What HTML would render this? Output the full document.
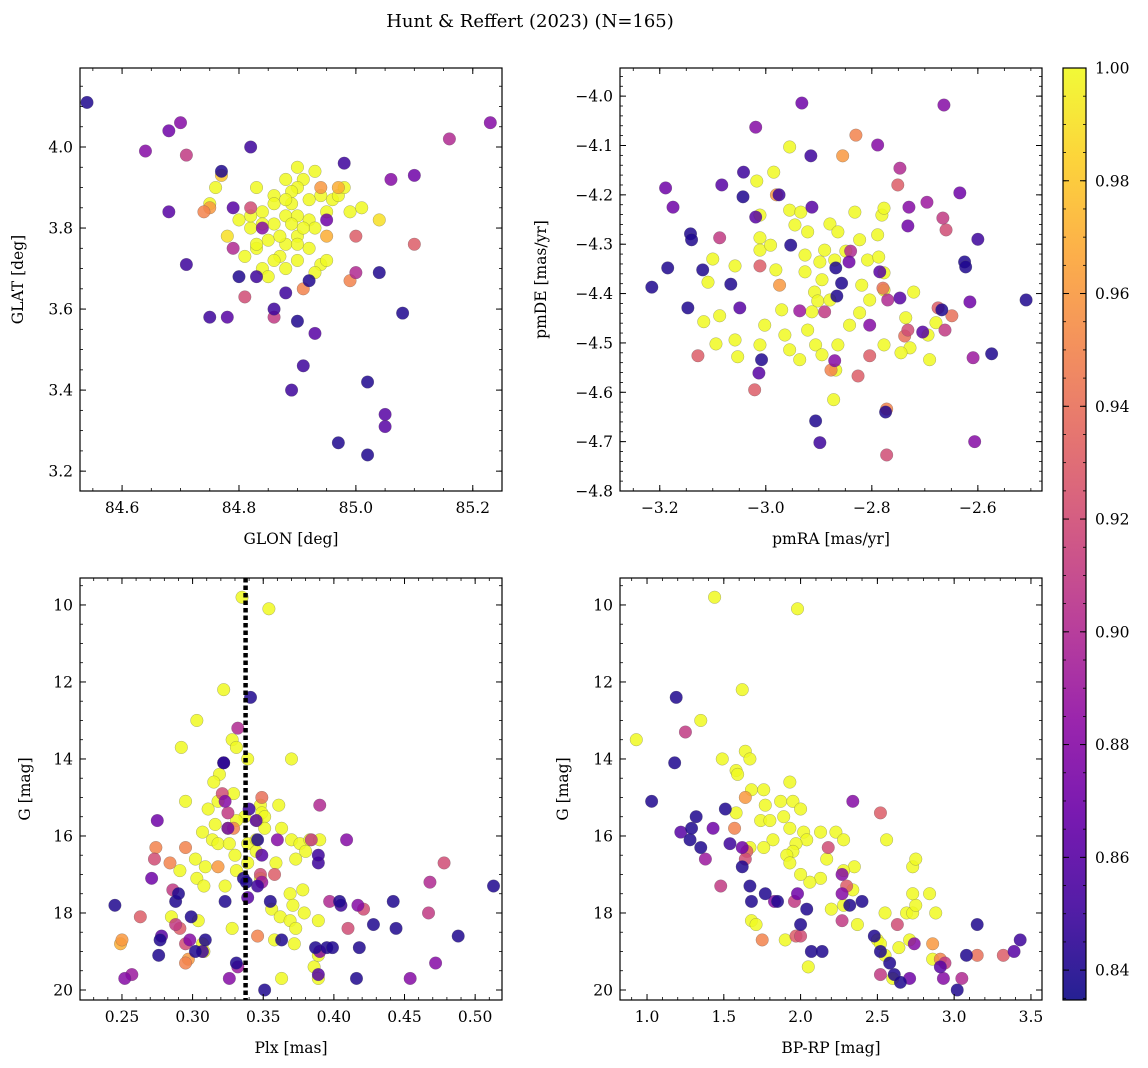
<!DOCTYPE html>
<html><head><meta charset="utf-8">
<style>
body{margin:0;background:#fff;}
svg{display:block;font-family:"DejaVu Serif","Liberation Serif",serif;}
</style></head>
<body>
<svg id="fig" width="1148" height="1068" xmlns="http://www.w3.org/2000/svg">
<text x="530" y="27" text-anchor="middle" font-size="18">Hunt &amp; Reffert (2023) (N=165)</text>
</svg>
<script>
// ---------- Panel 1: GLON vs GLAT ----------
const p1Glon=[84.54,84.64,84.68,84.70,84.71,84.68,84.71,84.75,84.78,84.82,84.77,84.79,84.74,84.82,84.81,84.86,84.86,84.90,84.91,84.89,84.93,84.98,85.02,84.97,85.02,85.05,85.05,85.08,85.06,85.10,85.16,85.23,85.00,85.00,84.99,84.91,84.80,84.83,84.92,84.88,85.04,85.10,84.95,84.79,84.84,84.94,84.97,84.75,84.77,84.95,
84.90,84.91,84.94,84.90,84.88,84.89,84.83,84.86,84.84,84.82,84.83,84.85,84.86,84.88,84.89,84.90,84.92,84.93,84.95,84.96,84.97,84.99,85.01,84.98,84.92,84.90,84.88,84.87,84.86,84.84,84.85,84.88,84.90,84.92,84.94,84.93,84.95,84.82,84.86,84.89,84.90,84.87,84.84,84.83,84.81,84.78,84.76,84.75,84.80,84.88,84.91,85.04,84.93];
const p1Glat=[4.11,3.99,4.04,4.06,3.98,3.84,3.71,3.58,3.58,4.00,3.94,3.85,3.84,3.85,3.63,3.58,3.60,3.57,3.46,3.40,3.54,3.96,3.42,3.27,3.24,3.34,3.31,3.59,3.92,3.93,4.02,4.06,3.78,3.69,3.67,3.65,3.68,3.68,3.67,3.64,3.69,3.76,3.82,3.75,3.80,3.90,3.90,3.85,3.93,3.78,
3.95,3.92,3.88,3.90,3.92,3.89,3.90,3.88,3.84,3.80,3.75,3.77,3.81,3.83,3.86,3.83,3.82,3.80,3.84,3.87,3.88,3.84,3.85,3.90,3.87,3.78,3.76,3.73,3.72,3.70,3.68,3.70,3.72,3.75,3.71,3.69,3.72,3.83,3.86,3.81,3.76,3.78,3.81,3.76,3.73,3.78,3.90,3.86,3.82,3.87,3.80,3.82,3.94];
const p1Prob=[.84,.88,.87,.88,.91,.86,.85,.85,.86,.85,.84,.86,.95,.92,.92,.91,.85,.84,.85,.85,.86,.85,.84,.84,.84,.86,.86,.84,.88,.87,.90,.88,.93,.90,.95,.95,.84,.85,.84,.85,.84,.93,.87,.90,.88,.96,.97,.96,.98,.97,
1,1,1,1,1,1,1,1,1,1,1,1,1,1,1,1,1,1,1,1,1,1,1,1,1,1,1,1,1,1,1,1,1,1,1,1,1,1,1,1,1,1,1,1,1,.99,1,1,1,1,1,.99,1];

// ---------- Panel 2: pmRA vs pmDE ----------
const p2PmRA=[-2.932,-2.664,-3.019,-2.915,-2.789,-3.042,-3.083,-3.043,-2.975,-2.913,-2.747,-2.730,-2.751,-2.696,-2.666,-2.634,-2.60,-2.625,-2.732,-2.660,-2.840,-2.843,-2.868,-2.785,-2.747,-2.866,-2.857,-2.509,-3.189,-3.175,-3.142,-3.140,-3.185,-3.215,-3.147,-3.119,-3.066,-3.087,-3.019,-2.953,-3.011,-2.974,-3.049,-3.128,-3.008,-3.013,-2.615,-2.668,-2.662,-2.704,-2.804,-2.770,-2.804,-2.870,-2.936,-2.889,-3.021,-2.906,-2.898,-2.772,-2.772,-2.774,-2.606,-2.623,-2.574,-2.649,-2.675,-2.826,-2.877,-2.779,-2.732,-2.738,-2.609,-2.855,-2.830,-2.98,
-2.985,-2.955,-3.017,-3.011,-3.011,-3.011,-3.058,-2.991,-2.981,-2.955,-2.945,-2.934,-2.921,-2.926,-2.926,-2.898,-2.889,-2.879,-2.864,-2.894,-2.908,-2.902,-2.879,-2.913,-2.921,-2.906,-2.936,-2.894,-2.864,-2.870,-2.849,-2.832,-2.823,-2.819,-2.808,-2.787,-2.789,-2.781,-2.777,-2.777,-2.777,-2.804,-2.823,-2.842,-2.868,-2.872,-2.970,-3.002,-3.011,-3.053,-3.058,-3.094,-3.087,-3.117,-3.109,-2.964,-2.955,-2.736,-2.728,-2.694,-2.679,-2.691,-2.777,-2.745,-2.721,-3.10];
const p2PmDE=[-4.014,-4.018,-4.063,-4.121,-4.099,-4.154,-4.180,-4.204,-4.200,-4.225,-4.146,-4.225,-4.180,-4.215,-4.247,-4.196,-4.29,-4.336,-4.263,-4.271,-4.314,-4.336,-4.348,-4.356,-4.409,-4.405,-4.379,-4.413,-4.186,-4.225,-4.279,-4.291,-4.348,-4.387,-4.429,-4.352,-4.381,-4.287,-4.245,-4.302,-4.344,-4.383,-4.429,-4.526,-4.534,-4.561,-4.417,-4.433,-4.474,-4.478,-4.464,-4.413,-4.526,-4.536,-4.435,-4.437,-4.595,-4.658,-4.702,-4.727,-4.634,-4.640,-4.700,-4.346,-4.522,-4.445,-4.429,-4.567,-4.555,-4.389,-4.474,-4.486,-4.530,-4.121,-4.079,-4.20,
-4.154,-4.103,-4.172,-4.241,-4.287,-4.312,-4.344,-4.302,-4.352,-4.231,-4.261,-4.235,-4.275,-4.322,-4.356,-4.336,-4.312,-4.259,-4.275,-4.372,-4.397,-4.415,-4.413,-4.437,-4.474,-4.504,-4.534,-4.524,-4.504,-4.332,-4.314,-4.235,-4.291,-4.383,-4.332,-4.326,-4.281,-4.241,-4.227,-4.358,-4.393,-4.413,-4.439,-4.464,-4.555,-4.615,-4.433,-4.464,-4.504,-4.528,-4.494,-4.502,-4.445,-4.457,-4.377,-4.484,-4.514,-4.449,-4.510,-4.484,-4.459,-4.534,-4.504,-4.520,-4.397,-4.33];
const p2Prob=[.87,.88,.88,.85,.88,.85,.86,.84,.85,.86,.90,.88,.93,.89,.91,.87,.85,.84,.87,.92,.90,.87,.84,.86,.86,.84,.84,.84,.87,.87,.84,.84,.84,.84,.84,.84,.84,.91,.86,.84,.93,.96,.86,.93,.84,.86,.87,.84,.91,.86,.88,.90,.93,.88,.89,.91,.93,.84,.85,.92,.95,.84,.88,.84,.84,.94,.93,.93,.95,.94,.92,.94,.89,.96,.95,.96,
1,1,1,1,1,1,1,1,1,1,1,1,1,1,1,1,1,1,1,1,1,1,1,1,1,1,1,1,1,1,1,1,1,1,1,1,1,1,1,1,1,1,1,1,1,1,1,1,1,1,1,1,1,1,1,1,1,1,1,1,1,1,1,1,1,1];

// ---------- Panel 3: Plx vs G ----------
const p3Plx=[0.335,0.354,0.322,0.303,0.292,0.328,0.331,0.339,0.370,0.319,0.315,0.318,0.295,0.311,0.329,0.348,0.349,0.361,0.346,0.351,0.337,0.331,0.325,0.316,0.307,0.314,0.318,0.326,0.339,0.345,0.351,0.363,0.370,0.376,0.383,0.380,0.390,0.302,0.309,0.330,0.339,0.345,0.359,0.373,0.291,0.303,0.308,0.323,0.331,0.348,0.378,0.369,0.356,0.362,0.371,0.379,0.369,0.373,0.358,0.372,0.389,0.389,0.363,0.328,0.304,0.285,0.307,0.308,0.386,0.389,
0.274,0.284,0.295,0.250,0.249,0.297,0.295,0.291,0.346,0.329,0.349,0.318,0.478,
0.263,0.273,0.286,0.288,0.295,0.321,0.332,0.325,0.348,0.358,0.384,0.397,0.421,0.467,0.468,0.410,0.390,0.349,
0.275,0.271,0.278,0.252,0.257,0.322,0.323,0.325,0.345,0.349,0.339,0.409,0.454,0.472,0.390,0.360,0.298,0.417,0.389,0.332,0.326,
0.245,0.277,0.276,0.288,0.290,0.299,0.302,0.307,0.309,0.323,0.322,0.341,0.340,0.346,0.336,0.338,0.346,0.351,0.355,0.363,0.387,0.389,0.389,0.395,0.404,0.399,0.405,0.418,0.428,0.442,0.444,0.416,0.488,0.513,0.331];
const p3G=[9.8,10.1,12.2,13.0,13.7,13.5,13.7,14.0,14.0,14.4,14.6,15.1,15.1,15.3,14.9,15.2,15.4,15.2,15.6,15.5,15.5,15.6,15.8,15.7,15.9,16.1,16.2,16.2,16.2,16.1,15.8,15.8,16.1,16.2,16.1,16.4,16.1,16.6,16.8,16.5,16.7,16.4,16.7,16.6,16.9,17.1,17.3,17.3,16.9,17.1,17.4,17.5,17.9,18.1,17.8,18.0,18.2,18.4,18.7,18.8,18.2,19.7,19.7,18.4,18.2,18.1,18.8,19.0,19.4,19.1,
16.3,16.7,16.3,18.7,18.8,19.2,19.3,18.4,18.6,15.8,15.0,16.8,16.7,
18.1,16.6,17.4,18.3,18.8,14.9,13.2,15.4,17.0,17.0,16.1,17.7,17.9,18.0,17.2,18.4,15.2,17.2,
15.6,17.1,18.6,19.7,19.6,14.1,15.1,15.8,15.6,16.5,17.6,16.1,19.7,19.3,19.0,16.1,18.7,17.8,19.6,19.4,19.7,
17.8,18.7,19.1,17.7,17.5,18.1,19.0,19.0,18.7,17.7,14.1,12.4,15.3,16.1,17.1,17.2,17.3,20.0,17.7,18.7,18.9,16.7,16.5,18.9,17.7,18.9,17.8,18.9,18.3,17.7,18.4,19.7,18.6,17.3,19.3];
const p3Prob=[1,1,1,1,1,1,1,1,1,1,1,1,1,1,1,1,1,1,1,1,1,1,1,1,1,1,1,1,1,1,1,1,1,1,1,1,1,1,1,1,1,1,1,1,1,1,1,1,1,1,1,1,1,1,1,1,1,1,1,1,1,1,1,1,1,1,1,1,1,1,
.95,.95,.95,.96,.97,.96,.95,.93,.95,.95,.94,.96,.92,
.93,.92,.91,.91,.92,.92,.90,.91,.92,.93,.91,.90,.92,.91,.90,.92,.90,.89,
.87,.87,.86,.88,.89,.88,.88,.87,.86,.86,.86,.88,.88,.88,.88,.88,.88,.88,.86,.89,.88,
.84,.84,.84,.84,.84,.84,.84,.85,.84,.84,.84,.84,.85,.84,.84,.84,.85,.84,.84,.84,.84,.85,.85,.84,.84,.84,.85,.84,.84,.84,.84,.84,.84,.84,.84];
const p3PlxRef=[0.3375];

// ---------- Panel 4: BP-RP vs G ----------
const p4BpRp=[1.44,1.98,0.93,1.35,1.62,1.49,1.64,1.67,1.58,1.59,1.68,1.76,1.93,1.87,1.95,2.00,1.77,1.58,1.74,1.80,1.89,1.82,1.93,2.02,2.13,2.04,1.97,1.95,1.91,1.93,1.76,1.67,2.23,2.28,2.35,2.56,2.28,2.13,2.06,2.00,2.17,2.34,2.37,2.20,2.28,1.68,1.71,1.90,2.05,2.50,2.55,2.52,2.55,2.64,2.71,2.69,2.73,2.75,2.73,2.73,2.75,2.84,2.88,2.60,2.86,
1.75,1.64,1.57,2.86,2.91,3.15,2.52,1.97,1.65,
1.25,1.48,1.64,2.00,1.96,2.18,2.27,2.30,2.63,2.52,2.94,3.32,3.05,
1.22,1.38,1.43,1.62,1.83,1.98,2.34,2.27,2.27,2.74,2.71,2.91,3.39,2.93,
1.03,1.19,1.18,1.28,1.29,1.32,1.35,1.51,1.54,1.62,1.67,1.68,1.77,1.85,2.00,2.04,2.07,2.14,2.32,2.40,2.48,2.52,2.58,2.61,2.65,3.02,3.08,3.15,3.43];
const p4G=[9.8,10.1,13.5,13.0,12.2,14.0,13.8,14.0,14.3,14.4,14.8,14.8,14.6,15.1,15.1,15.3,15.2,15.4,15.6,15.6,15.5,16.1,15.8,15.9,15.9,16.1,16.2,16.4,16.5,16.7,16.3,16.3,15.9,16.1,16.8,16.1,16.9,17.1,17.2,17.0,16.6,17.4,18.3,17.9,17.8,18.2,18.3,18.7,19.4,18.7,18.0,18.8,19.1,18.9,18.7,18.0,18.0,17.8,17.5,16.8,16.6,17.5,18.0,19.7,19.2,
18.7,15.0,15.8,18.8,19.2,19.1,15.4,18.6,16.4,
13.3,17.3,16.6,18.6,17.7,16.3,18.2,17.3,18.3,19.6,19.3,19.1,19.7,
15.9,16.6,15.8,16.3,17.7,17.5,15.1,17.0,17.5,18.8,19.7,19.4,19.0,19.7,
15.1,12.4,14.1,16.1,15.8,15.5,16.3,15.3,16.2,16.8,17.3,17.7,17.5,17.7,18.3,17.9,19.0,19.0,17.8,17.7,18.6,19.0,19.3,19.6,19.8,20.0,19.1,18.3,18.7];
const p4Prob=[1,1,1,1,1,1,1,1,1,1,1,1,1,1,1,1,1,1,1,1,1,1,1,1,1,1,1,1,1,1,1,1,1,1,1,1,1,1,1,1,1,1,1,1,1,1,1,1,1,1,1,1,1,1,1,1,1,1,1,1,1,1,1,1,1,
.95,.96,.95,.96,.95,.94,.93,.93,.93,
.91,.91,.92,.92,.91,.92,.91,.93,.92,.91,.91,.93,.90,
.86,.89,.87,.87,.88,.87,.88,.88,.88,.88,.87,.86,.86,.88,
.84,.84,.84,.84,.84,.84,.84,.84,.85,.84,.84,.84,.84,.84,.84,.84,.84,.84,.84,.84,.84,.84,.84,.84,.84,.84,.84,.84,.85];

// ---------- Colorbar ----------
const cbMin=0.8347, cbMax=1.0;
const cbTicks=[0.84,0.86,0.88,0.90,0.92,0.94,0.96,0.98,1.00];

const NS="http://www.w3.org/2000/svg";
const svg=document.getElementById('fig');
function mk(tag,attrs,parent){const e=document.createElementNS(NS,tag);for(const k in attrs)e.setAttribute(k,attrs[k]);(parent||svg).appendChild(e);return e;}
const stops=[[13,8,135],[65,4,157],[106,0,168],[143,13,164],[177,42,144],[204,71,120],[225,100,98],[242,132,75],[252,166,54],[252,206,37],[240,249,33]];
function plasma(t){t=Math.max(0,Math.min(1,t));const f=t*10,i=Math.min(9,Math.floor(f)),r=f-i;const a=stops[i],b=stops[i+1];
return 'rgb('+a.map((v,k)=>Math.round(v+(b[k]-v)*r)).join(',')+')';}
function fmt(v,d){const s=Math.abs(v).toFixed(d);return (v<-1e-9?'\u2212':'')+s;}
function ticks(lo,hi,step){const out=[];let s=Math.ceil(lo/step-1e-6);for(let v=s*step;v<=hi+1e-9;v=(++s)*step)out.push(+v.toFixed(6));return out;}

function panel(o){
  const g=mk('g',{});
  
  
  const sx=v=>o.x0+(v-o.xmin)/(o.xmax-o.xmin)*(o.x1-o.x0);
  const sy=v=>o.inv? o.y0+(v-o.ymin)/(o.ymax-o.ymin)*(o.y1-o.y0) : o.y1-(v-o.ymin)/(o.ymax-o.ymin)*(o.y1-o.y0);
  const clipId='clip-'+o.name;
  const cp=mk('clipPath',{id:clipId},g);mk('rect',{x:o.x0,y:o.y0,width:o.x1-o.x0,height:o.y1-o.y0},cp);
  const pts=mk('g',{'clip-path':'url(#'+clipId+')'},g);
  // draw lowest probability on top? matplotlib order: draw yellows first then darker ones
  const idx=o.xs.map((_,i)=>i).sort((a,b)=>o.ps[b]-o.ps[a]);
  idx.forEach(i=>{
    const c=mk('circle',{cx:sx(o.xs[i]),cy:sy(o.ys[i]),r:6.3,fill:plasma((o.ps[i]-cbMin)/(cbMax-cbMin)),'fill-opacity':0.85,stroke:'#555','stroke-width':0.4,'stroke-opacity':0.6},pts);
    
    
  });
  if(o.vline){o.vline.forEach(v=>{const l=mk('line',{x1:sx(v),x2:sx(v),y1:o.y0,y2:o.y1,stroke:'#000','stroke-width':4.5,'stroke-dasharray':'4.5 3'},g);
    
    });}
  const frame=mk('rect',{x:o.x0,y:o.y0,width:o.x1-o.x0,height:o.y1-o.y0,fill:'none',stroke:'#000','stroke-width':1.2},g);
  
  
  // x ticks
  ticks(o.xmin,o.xmax,o.xminor).forEach(v=>{const x=sx(v);mk('line',{x1:x,x2:x,y1:o.y1,y2:o.y1-3,stroke:'#000','stroke-width':0.8},g);mk('line',{x1:x,x2:x,y1:o.y0,y2:o.y0+3,stroke:'#000','stroke-width':0.8},g);});
  ticks(o.xmin,o.xmax,o.xmajor).forEach(v=>{const x=sx(v);mk('line',{x1:x,x2:x,y1:o.y1,y2:o.y1-6,stroke:'#000','stroke-width':1},g);mk('line',{x1:x,x2:x,y1:o.y0,y2:o.y0+6,stroke:'#000','stroke-width':1},g);
    const t=mk('text',{x:x,y:o.y1+22,'text-anchor':'middle','font-size':15.5},g);t.textContent=fmt(v,o.xd);
    
    });
  ticks(Math.min(o.ymin,o.ymax),Math.max(o.ymin,o.ymax),o.yminor).forEach(v=>{const y=sy(v);mk('line',{x1:o.x0,x2:o.x0+3,y1:y,y2:y,stroke:'#000','stroke-width':0.8},g);mk('line',{x1:o.x1,x2:o.x1-3,y1:y,y2:y,stroke:'#000','stroke-width':0.8},g);});
  ticks(Math.min(o.ymin,o.ymax),Math.max(o.ymin,o.ymax),o.ymajor).forEach(v=>{const y=sy(v);mk('line',{x1:o.x0,x2:o.x0+6,y1:y,y2:y,stroke:'#000','stroke-width':1},g);mk('line',{x1:o.x1,x2:o.x1-6,y1:y,y2:y,stroke:'#000','stroke-width':1},g);
    const t=mk('text',{x:o.x0-7,y:y+5.5,'text-anchor':'end','font-size':15.5},g);t.textContent=fmt(v,o.yd);
    
    });
  const xl=mk('text',{x:(o.x0+o.x1)/2,y:o.y1+53,'text-anchor':'middle','font-size':15.5},g);xl.textContent=o.xlabel;
  
  
  const yx=o.ylx, yy=(o.y0+o.y1)/2;
  const yl=mk('text',{x:yx,y:yy,'text-anchor':'middle','font-size':15.5,transform:'rotate(-90 '+yx+' '+yy+')'},g);yl.textContent=o.ylabel;
  
  
}

panel({name:'panel-glon-glat',x0:80,x1:502,y0:68,y1:491,xmin:84.528,xmax:85.250,ymin:3.151,ymax:4.195,xmajor:0.2,xminor:0.05,ymajor:0.2,yminor:0.05,xd:1,yd:1,xs:p1Glon,ys:p1Glat,ps:p1Prob,xlabel:'GLON [deg]',ylabel:'GLAT [deg]',ylx:23});
panel({name:'panel-pm',x0:620,x1:1042,y0:68,y1:491,xmin:-3.275,xmax:-2.479,ymin:-4.8,ymax:-3.943,xmajor:0.2,xminor:0.05,ymajor:0.1,yminor:0.02,xd:1,yd:1,xs:p2PmRA,ys:p2PmDE,ps:p2Prob,xlabel:'pmRA [mas/yr]',ylabel:'pmDE [mas/yr]',ylx:546});
panel({name:'panel-plx-g',x0:80,x1:502,y0:578,y1:1000,xmin:0.2203,xmax:0.519,ymin:9.30,ymax:20.26,inv:true,xmajor:0.05,xminor:0.01,ymajor:2,yminor:0.5,xd:2,yd:0,xs:p3Plx,ys:p3G,ps:p3Prob,vline:p3PlxRef,xlabel:'Plx [mas]',ylabel:'G [mag]',ylx:30});
panel({name:'panel-cmd',x0:620,x1:1042,y0:578,y1:1000,xmin:0.824,xmax:3.572,ymin:9.30,ymax:20.26,inv:true,xmajor:0.5,xminor:0.1,ymajor:2,yminor:0.5,xd:1,yd:0,xs:p4BpRp,ys:p4G,ps:p4Prob,xlabel:'BP-RP [mag]',ylabel:'G [mag]',ylx:568});

// colorbar
(function(){
  const x0=1063,x1=1086,y0=68,y1=1000;
  const g=mk('g',{});
  
  
  const defs=mk('defs',{},g);const lg=mk('linearGradient',{id:'cbgrad',x1:0,y1:1,x2:0,y2:0},defs);
  for(let i=0;i<=20;i++){mk('stop',{offset:i/20,'stop-color':plasma(i/20),'stop-opacity':0.9},lg);}
  mk('rect',{x:x0,y:y0,width:x1-x0,height:y1-y0,fill:'url(#cbgrad)',stroke:'#000','stroke-width':1.2},g);
  const sy=v=>y1-(v-cbMin)/(cbMax-cbMin)*(y1-y0);
  ticks(cbMin,cbMax,0.005).forEach(v=>{const y=sy(v);mk('line',{x1:x0,x2:x0+3,y1:y,y2:y,stroke:'#000','stroke-width':0.8},g);mk('line',{x1:x1,x2:x1-3,y1:y,y2:y,stroke:'#000','stroke-width':0.8},g);});
  cbTicks.forEach(v=>{const y=sy(v);mk('line',{x1:x0,x2:x0+6,y1:y,y2:y,stroke:'#000','stroke-width':1},g);mk('line',{x1:x1,x2:x1-6,y1:y,y2:y,stroke:'#000','stroke-width':1},g);
    const t=mk('text',{x:x1+9,y:y+5.5,'font-size':15.5},g);t.textContent=v.toFixed(2);
    
    });
})();
</script>
</body></html>
